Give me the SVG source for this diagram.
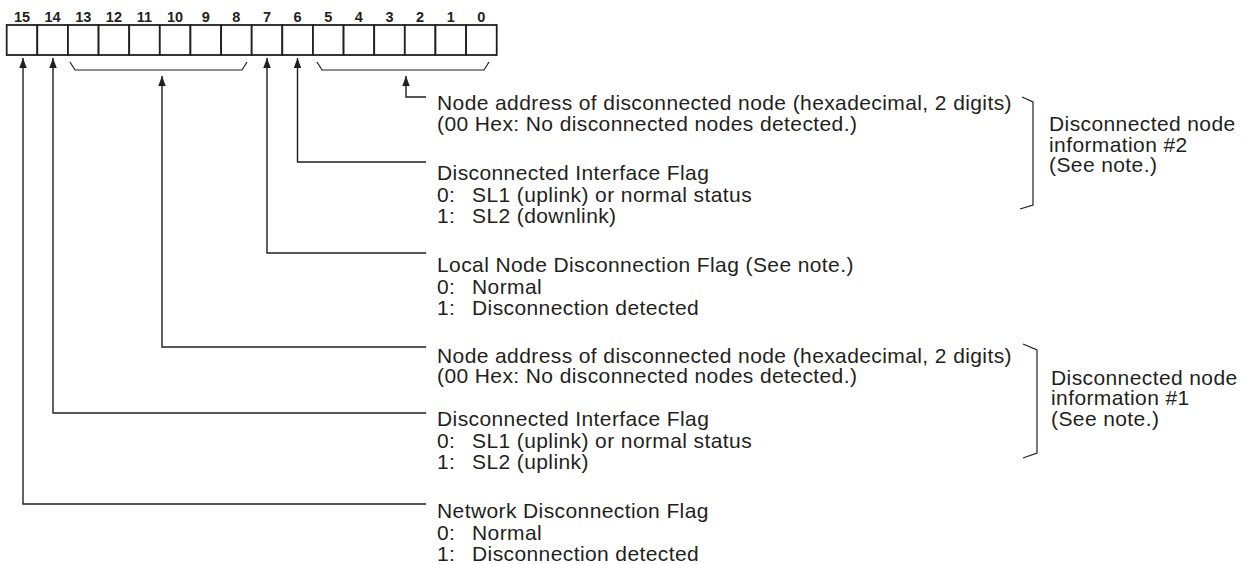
<svg xmlns="http://www.w3.org/2000/svg" width="1251" height="564" viewBox="0 0 1251 564">
<style>
.t{font-family:"Liberation Sans",Arial,sans-serif;font-size:21px;letter-spacing:0.4px;fill:#231f20}
.b{font-family:"Liberation Sans",Arial,sans-serif;font-size:14.5px;font-weight:bold;fill:#231f20;text-anchor:middle}
.cell{fill:#fff;stroke:#231f20;stroke-width:1.8}
.ln{fill:none;stroke:#231f20;stroke-width:1.4}
.br{fill:none;stroke:#231f20;stroke-width:1.2}
</style>
<defs>
<marker id="ah" markerUnits="userSpaceOnUse" markerWidth="11" markerHeight="8" refX="10" refY="3.75" orient="auto-start-reverse">
<path d="M0,0 L10,3.75 L0,7.5 z" fill="#231f20"/>
</marker>
</defs>
<g id="register">
<g id="bitnumbers">
<text class="b" x="22" y="21.7">15</text>
<text class="b" x="52.6" y="21.7">14</text>
<text class="b" x="83.3" y="21.7">13</text>
<text class="b" x="113.9" y="21.7">12</text>
<text class="b" x="144.5" y="21.7">11</text>
<text class="b" x="175.1" y="21.7">10</text>
<text class="b" x="205.8" y="21.7">9</text>
<text class="b" x="236.4" y="21.7">8</text>
<text class="b" x="267" y="21.7">7</text>
<text class="b" x="297.6" y="21.7">6</text>
<text class="b" x="328.3" y="21.7">5</text>
<text class="b" x="358.9" y="21.7">4</text>
<text class="b" x="389.5" y="21.7">3</text>
<text class="b" x="420.1" y="21.7">2</text>
<text class="b" x="450.8" y="21.7">1</text>
<text class="b" x="481.4" y="21.7">0</text>
</g>
<g id="cells">
<rect class="cell" x="6.7" y="25" width="30.625" height="30"/>
<rect class="cell" x="37.3" y="25" width="30.625" height="30"/>
<rect class="cell" x="67.95" y="25" width="30.625" height="30"/>
<rect class="cell" x="98.6" y="25" width="30.625" height="30"/>
<rect class="cell" x="129.2" y="25" width="30.625" height="30"/>
<rect class="cell" x="159.8" y="25" width="30.625" height="30"/>
<rect class="cell" x="190.45" y="25" width="30.625" height="30"/>
<rect class="cell" x="221.1" y="25" width="30.625" height="30"/>
<rect class="cell" x="251.7" y="25" width="30.625" height="30"/>
<rect class="cell" x="282.3" y="25" width="30.625" height="30"/>
<rect class="cell" x="312.95" y="25" width="30.625" height="30"/>
<rect class="cell" x="343.6" y="25" width="30.625" height="30"/>
<rect class="cell" x="374.2" y="25" width="30.625" height="30"/>
<rect class="cell" x="404.8" y="25" width="30.625" height="30"/>
<rect class="cell" x="435.45" y="25" width="30.625" height="30"/>
<rect class="cell" x="466.1" y="25" width="30.625" height="30"/>
</g>
</g>
<g id="connectors">
<path class="br" d="M70,62 L75,70 H242 L247,62"/>
<path class="br" d="M317,62 L322,70 H484 L489,62"/>
<path class="ln" d="M23,58 V504 H426" marker-start="url(#ah)"/>
<path class="ln" d="M53,58 V413 H426" marker-start="url(#ah)"/>
<path class="ln" d="M162,76 V347 H426" marker-start="url(#ah)"/>
<path class="ln" d="M267,58 V253 H426" marker-start="url(#ah)"/>
<path class="ln" d="M297.5,58 V162 H426" marker-start="url(#ah)"/>
<path class="ln" d="M406,76 V97 H426" marker-start="url(#ah)"/>
<path class="br" d="M1022,97 L1033,102 V205 L1020,209"/>
<path class="br" d="M1023,344 L1037,350 V453 L1023,458"/>
</g>
<g id="node-addr-2">
<text class="t" x="437" y="110">Node address of disconnected node (hexadecimal, 2 digits)</text>
<text class="t" x="437" y="130.5">(00 Hex: No disconnected nodes detected.)</text>
</g>
<g id="interface-flag-2">
<text class="t" x="437" y="180">Disconnected Interface Flag</text>
<text class="t" y="201.5"><tspan x="437">0:</tspan><tspan x="472">SL1 (uplink) or normal status</tspan></text>
<text class="t" y="223"><tspan x="437">1:</tspan><tspan x="472">SL2 (downlink)</tspan></text>
</g>
<g id="local-flag">
<text class="t" x="437" y="272">Local Node Disconnection Flag (See note.)</text>
<text class="t" y="293.5"><tspan x="437">0:</tspan><tspan x="472">Normal</tspan></text>
<text class="t" y="315"><tspan x="437">1:</tspan><tspan x="472">Disconnection detected</tspan></text>
</g>
<g id="node-addr-1">
<text class="t" x="437" y="362.5">Node address of disconnected node (hexadecimal, 2 digits)</text>
<text class="t" x="437" y="383">(00 Hex: No disconnected nodes detected.)</text>
</g>
<g id="interface-flag-1">
<text class="t" x="437" y="426">Disconnected Interface Flag</text>
<text class="t" y="447.5"><tspan x="437">0:</tspan><tspan x="472">SL1 (uplink) or normal status</tspan></text>
<text class="t" y="469"><tspan x="437">1:</tspan><tspan x="472">SL2 (uplink)</tspan></text>
</g>
<g id="network-flag">
<text class="t" x="437" y="518">Network Disconnection Flag</text>
<text class="t" y="539.5"><tspan x="437">0:</tspan><tspan x="472">Normal</tspan></text>
<text class="t" y="561"><tspan x="437">1:</tspan><tspan x="472">Disconnection detected</tspan></text>
</g>
<g id="info-2">
<text class="t" x="1049" y="131">Disconnected node</text>
<text class="t" x="1049" y="151.5">information #2</text>
<text class="t" x="1049" y="172">(See note.)</text>
</g>
<g id="info-1">
<text class="t" x="1051" y="384.5">Disconnected node</text>
<text class="t" x="1051" y="405">information #1</text>
<text class="t" x="1051" y="425.5">(See note.)</text>
</g>
</svg>
